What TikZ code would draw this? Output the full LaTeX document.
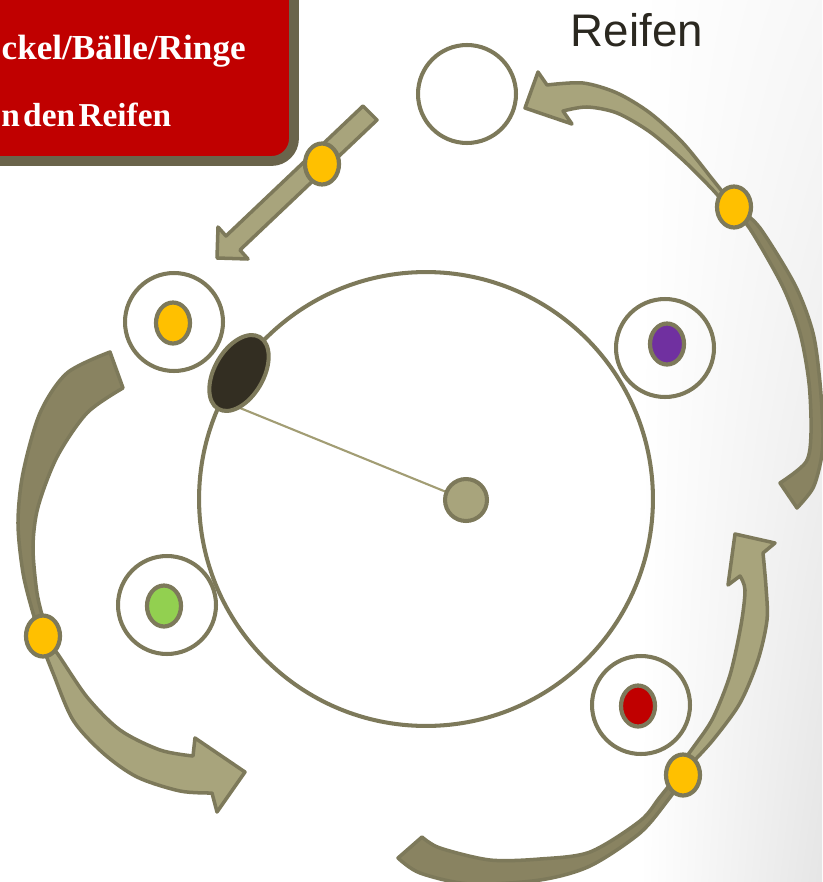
\documentclass[tikz,border=0pt]{standalone}
\usepackage{fontspec}
\usepackage{tikz}
\usetikzlibrary{shapes,arrows,positioning,calc,shadings}
\newfontfamily\labelfont{Liberation Sans}
\newfontfamily\notefont{Liberation Serif}
\definecolor{rim}{HTML}{7D795A}
\definecolor{khaki}{HTML}{A8A47C}
\definecolor{khakidark}{HTML}{898361}
\definecolor{boxrim}{HTML}{6A644B}
\definecolor{boxred}{HTML}{C00000}
\definecolor{ballyellow}{HTML}{FFC000}
\definecolor{ballpurple}{HTML}{7030A0}
\definecolor{ballgreen}{HTML}{92D050}
\definecolor{ballred}{HTML}{C00000}
\definecolor{puck}{HTML}{332E22}
\definecolor{textdark}{HTML}{2B2820}
\definecolor{spoke}{HTML}{A29D74}

\begin{document}
\begin{tikzpicture}[
    x=0.02cm, y=-0.02cm,
    plate/.style={circle, draw=rim, line width=2.3pt, minimum size=9.08cm, inner sep=0pt},
    hoop/.style={circle, draw=rim, line width=2.3pt, minimum size=1.96cm, inner sep=0pt},
    dot/.style={ellipse, draw=rim, line width=2.4pt, minimum width=0.68cm, minimum height=0.82cm, inner sep=0pt},
    hub/.style={circle, draw=rim, fill=khaki, line width=2.3pt, minimum size=0.84cm, inner sep=0pt},
    puckstyle/.style={ellipse, draw=rim, fill=puck, line width=2.3pt, minimum width=1.66cm,
                      minimum height=0.98cm, inner sep=0pt, rotate=60},
    arm/.style={draw=rim, fill=khaki, line width=2pt, line join=round},
    armback/.style={draw=rim, fill=khakidark, line width=2pt, line join=round},
    notebox/.style={draw=boxrim, fill=boxred, line width=5.6pt, rounded corners=0.45cm},
    note/.style={text=white, inner sep=0pt,
                 font=\notefont\bfseries\fontsize{20}{24}\selectfont}
]
\useasboundingbox (0,0) rectangle (822,882);

% Background
\shade[upper left=white, lower left=white, upper right=black!3, lower right=black!10]
    (640,0) rectangle (822,882);

% Task box
\draw[notebox] (-40,-40) rectangle (294,161);
\node[note, anchor=base east] (items) at (246,60) {ckel/Bälle/Ringe};
\node[note, anchor=base west, font=\notefont\bfseries\fontsize{19}{23}\selectfont] (goal) at (1,127) {n\hspace{0.1em}den\hspace{0.1em}Reifen};

% Field
\node[plate] (field) at (426,499) {};
\coordinate (grip) at (240,408);
\draw[spoke, line width=1.2pt] (grip) -- (466,500);
\node[hub] (hub) at (466,500) {};

% Hoops
\node[hoop] (hooptop) at (467,94) {};
\node[hoop] (hoopnw) at (174,322) {};
\node[hoop] (hoopne) at (665,348) {};
\node[hoop] (hoopsw) at (167,605) {};
\node[hoop] (hoopse) at (641,705) {};
\node[font=\labelfont\fontsize{26}{30}\selectfont, text=textdark, anchor=base] (hooplabel) at (637,47) {Reifen};

% Balls in the hoops
\node[dot, fill=ballyellow] (ballnw) at (173,323) {};
\node[dot, fill=ballpurple] (ballne) at (667,344) {};
\node[dot, fill=ballgreen] (ballsw) at (164,606) {};
\node[dot, fill=ballred] (ballse) at (638,706) {};
\node[puckstyle] (puck) at (239,373) {};

% Arrows
\draw[arm] (363,106) -- (377,120) -- (240,250) -- (248,259) -- (217,258) -- (218,227) -- (226,236) -- cycle;

\draw[armback] plot[smooth] coordinates {(735,210) (752,232) (783,287) (800,333) (809,383) (811,433) (806,462) (780,483)}
    -- (797,508) -- plot[smooth] coordinates {(797,508) (813,488) (821,460) (823,433) (820,383) (813,333) (795,285) (760,228) (740,210)} -- cycle;
\draw[arm] plot[smooth] coordinates {(733,205) (713,180) (683,143) (650,113) (617,93) (583,83) (547,85)}
    -- (538,72) -- (525,108) -- (572,124) -- (563,111)
    -- plot[smooth] coordinates {(563,111) (587,107) (617,113) (650,132) (683,160) (713,190) (728,208)} -- cycle;

\draw[armback] plot[smooth] coordinates {(40,632) (33,613) (23,573) (18,523) (23,473) (40,413) (67,373) (110,352)}
    -- (123,388) -- plot[smooth] coordinates {(123,388) (87,413) (57,457) (38,507) (33,547) (37,593) (44,622)} -- cycle;
\draw[arm] plot[smooth] coordinates {(45,640) (57,653) (87,697) (120,730) (160,750) (193,756)}
    -- (195,738) -- (245,772) -- (217,812) -- (212,793)
    -- plot[smooth] coordinates {(212,793) (180,791) (137,777) (103,753) (73,720) (53,673) (42,645)} -- cycle;

\draw[armback] plot[smooth] coordinates {(683,768) (660,797) (640,821) (590,852) (540,859) (490,860) (440,848) (422,837)}
    -- (398,858) -- plot[smooth] coordinates {(398,858) (420,873) (470,884) (540,880) (590,866) (640,833) (668,800) (688,772)} -- cycle;
\draw[arm] plot[smooth] coordinates {(680,765) (695,745) (713,718) (730,675) (741,625) (745,590) (740,576)}
    -- (728,585) -- (735,534) -- (775,543) -- (763,553)
    -- plot[smooth] coordinates {(763,553) (766,587) (767,620) (758,660) (740,703) (713,740) (690,765)} -- cycle;

% Balls on the way
\node[dot, fill=ballyellow] (ballpass) at (322,164) {};
\node[dot, fill=ballyellow] (ballright) at (734,207) {};
\node[dot, fill=ballyellow] (ballleft) at (43,636) {};
\node[dot, fill=ballyellow] (balllow) at (683,775) {};

\end{tikzpicture}
\end{document}
